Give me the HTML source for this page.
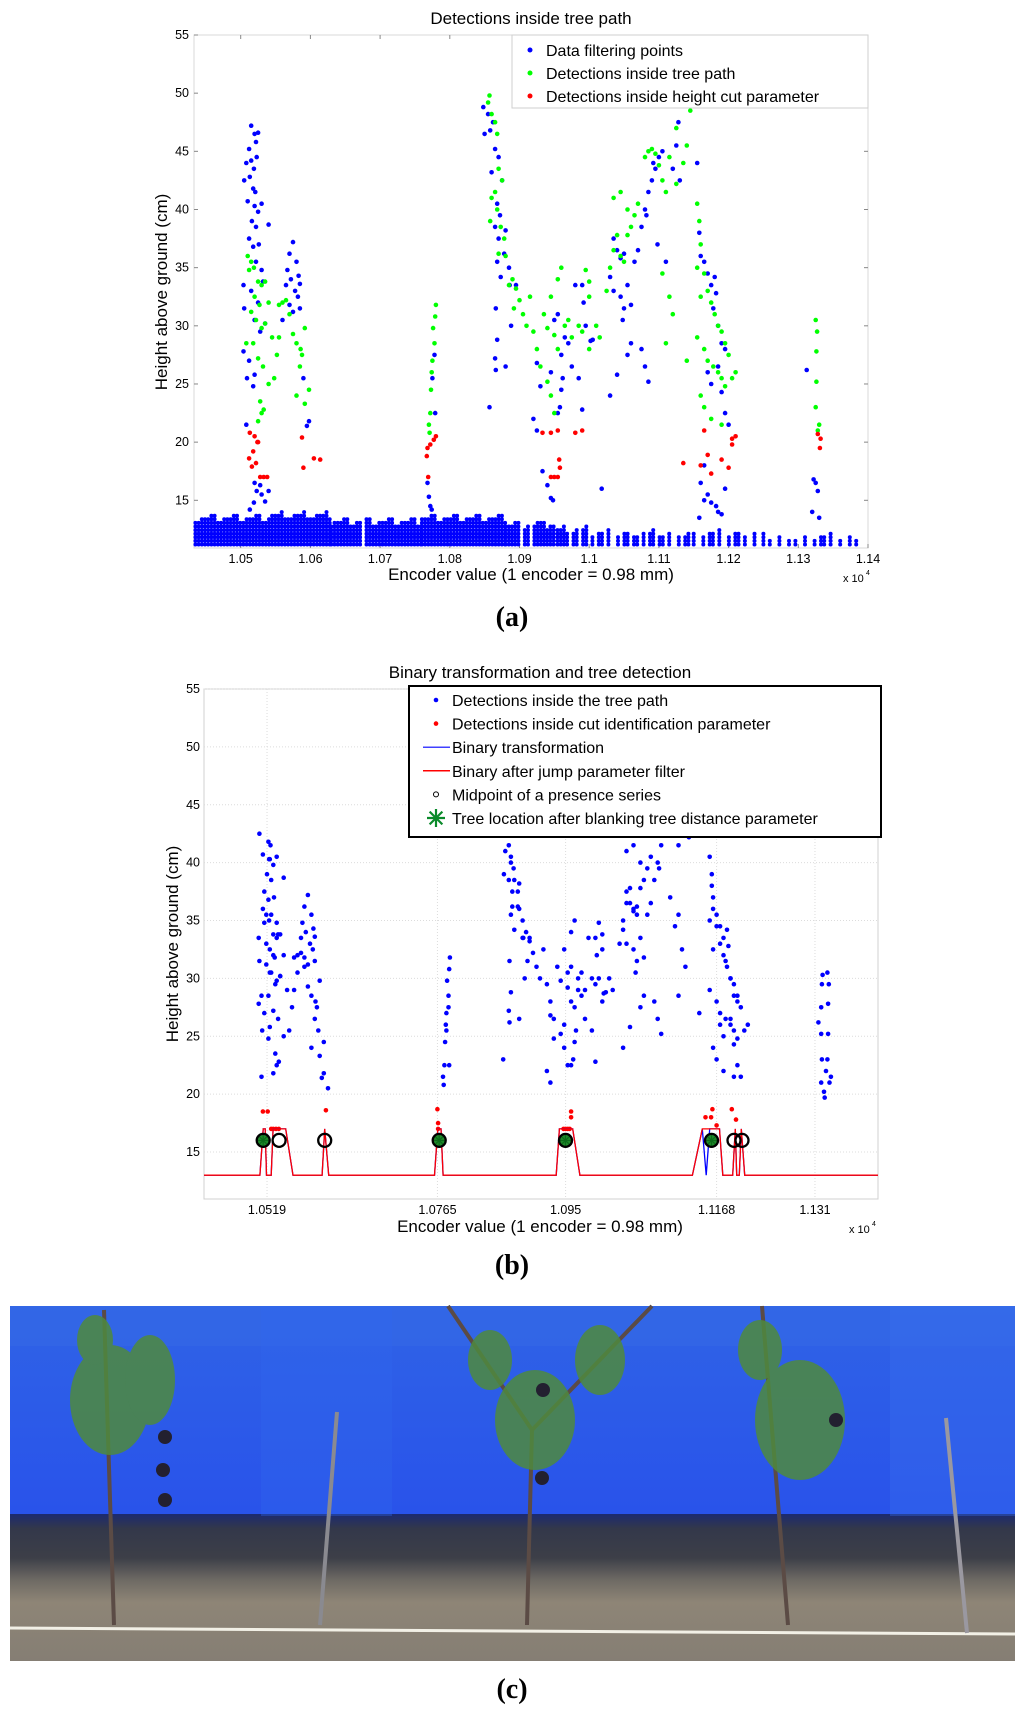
<!DOCTYPE html>
<html><head><meta charset="utf-8">
<style>
body{margin:0;background:#fff;width:1024px;height:1717px;overflow:hidden;font-family:"Liberation Sans",sans-serif;}
svg text{font-family:"Liberation Sans",sans-serif;}
svg text.serif{font-family:"Liberation Serif",serif;font-weight:bold;}
</style></head>
<body>
<svg id="fig" width="1024" height="1717" xmlns="http://www.w3.org/2000/svg">
<defs>
<linearGradient id="sky" x1="0" y1="0" x2="0" y2="1">
<stop offset="0" stop-color="#2f63e6"/><stop offset="0.5" stop-color="#2a55ea"/><stop offset="1" stop-color="#2448e8"/></linearGradient>
<linearGradient id="soil" x1="0" y1="0" x2="0" y2="1">
<stop offset="0" stop-color="#1c2a70"/><stop offset="0.1" stop-color="#33384a"/><stop offset="0.3" stop-color="#3d3f48"/><stop offset="0.45" stop-color="#6e6a64"/><stop offset="0.6" stop-color="#8e8576"/><stop offset="1" stop-color="#857e74"/></linearGradient>
</defs>
<g id="chartA"></g>
<g id="chartB"></g>
<g id="photo">
<rect x="10" y="1306" width="1005" height="355" fill="url(#sky)"/>
<rect x="10" y="1306" width="1005" height="40" fill="#3a6fe6" opacity="0.35"/>
<rect x="10" y="1514" width="1005" height="147" fill="url(#soil)"/>
<rect x="261" y="1306" width="131" height="210" fill="#3268ee" opacity="0.35"/>
<rect x="890" y="1306" width="125" height="210" fill="#3a70ee" opacity="0.35"/>
<line x1="10" y1="1628" x2="1015" y2="1634" stroke="#f2f0e6" stroke-width="3"/>
<g stroke="#5b4b45" stroke-width="4" fill="none">
<line x1="114" y1="1625" x2="104" y2="1310"/>
<line x1="527" y1="1625" x2="532" y2="1430"/>
<line x1="532" y1="1430" x2="448" y2="1306"/>
<line x1="532" y1="1430" x2="652" y2="1306"/>
<line x1="788" y1="1625" x2="762" y2="1306"/>
</g>
<line x1="320" y1="1625" x2="337" y2="1412" stroke="#8a8a90" stroke-width="4"/>
<line x1="967" y1="1633" x2="946" y2="1418" stroke="#9a98a0" stroke-width="4"/>
<g fill="#4f8a3e" opacity="0.85">
<ellipse cx="110" cy="1400" rx="40" ry="55"/><ellipse cx="150" cy="1380" rx="25" ry="45"/><ellipse cx="95" cy="1340" rx="18" ry="25"/>
<ellipse cx="535" cy="1420" rx="40" ry="50"/><ellipse cx="490" cy="1360" rx="22" ry="30"/><ellipse cx="600" cy="1360" rx="25" ry="35"/>
<ellipse cx="800" cy="1420" rx="45" ry="60"/><ellipse cx="760" cy="1350" rx="22" ry="30"/>
</g>
<g fill="#232030"><circle cx="165" cy="1437" r="7"/><circle cx="163" cy="1470" r="7"/><circle cx="165" cy="1500" r="7"/><circle cx="543" cy="1390" r="7"/><circle cx="542" cy="1478" r="7"/><circle cx="836" cy="1420" r="7"/></g>
</g>
<text class="serif" x="512" y="626" text-anchor="middle" font-size="28">(a)</text>
<text class="serif" x="512" y="1274" text-anchor="middle" font-size="28">(b)</text>
<text class="serif" x="512" y="1698" text-anchor="middle" font-size="28">(c)</text>
</svg>
<script>
// ---------- Chart A data ----------
const aBlue = [[1.0515,47.2],[1.0520,46.5],[1.0522,45.8],[1.0525,46.6],[1.0512,45.2],[1.0508,44],[1.0515,44.2],[1.0519,43.5],[1.0523,44.5],[1.0505,42.5],[1.0513,42.8],[1.0518,41.8],[1.0521,41.5],[1.0510,40.7],[1.0520,40.3],[1.0525,39.8],[1.0516,39],[1.0522,38.5],[1.0530,40.5],[1.0540,38.7],[1.0512,37.5],[1.0518,36.8],[1.0526,37],[1.0522,35.5],[1.0530,34.8],[1.0532,33.8],[1.0504,33.5],[1.0515,33],[1.0525,32],[1.0505,31.5],[1.0520,30.5],[1.0528,29.5],[1.0535,30.2],[1.0504,27.8],[1.0512,27],[1.0520,25.8],[1.0509,25.5],[1.0518,24.8],[1.0508,21.5],
[1.0575,37.2],[1.0570,36.2],[1.0580,35.5],[1.0567,34.8],[1.0572,34],[1.0585,33.6],[1.0565,33.5],[1.0578,33],[1.0582,32.5],[1.0570,31.8],[1.0575,31.2],[1.0585,31.5],[1.0560,30.5],[1.0590,25.5],[1.0598,21.8],[1.0595,21.4],[1.0583,34.3],
[1.0520,16.5],[1.0523,15.8],[1.0528,16.3],[1.0530,15.5],[1.0519,14.8],[1.0535,14.9],[1.0540,15.8],[1.0513,14.2],
[1.0778,27.5],[1.0775,25.5],[1.0779,22.5],[1.0768,16.5],[1.0770,15.3],[1.0772,14.5],[1.0774,14.2],
[1.0848,48.8],[1.0855,48.2],[1.0862,47.5],[1.0858,46.8],[1.0850,46.5],[1.0865,45.2],[1.0870,44.5],[1.0860,43.2],[1.0875,42.5],[1.0868,40.5],[1.0872,39.5],[1.0865,38.5],[1.0880,38.2],[1.0870,37.5],[1.0878,36.2],[1.0868,35.5],[1.0885,35],[1.0873,34.2],[1.0886,33.5],[1.0866,31.5],[1.0868,28.8],[1.0865,27.2],[1.0880,26.5],[1.0866,26.2],[1.0857,23],[1.0888,30],[1.0895,33.5],
[1.0925,26.8],[1.0930,24.8],[1.0920,22],[1.0925,21],[1.0933,17.5],[1.0940,16.3],[1.0945,15.2],[1.0948,15],[1.0955,22.5],[1.0958,23],[1.0950,30.5],[1.0955,31],[1.0960,27.5],[1.0962,25.5],[1.0960,24.5],[1.0945,26],[1.0970,28.5],[1.0980,33.5],[1.0990,33.5],[1.0992,32],[1.0965,29],[1.0975,26.5],[1.0990,22.8],[1.0995,30],[1.1002,28.7],[1.1005,28.8],[1.0985,25.5],[1.1018,16],
[1.1030,34.2],[1.1035,37.5],[1.1040,36.5],[1.1045,35.8],[1.1050,36.2],[1.1035,33],[1.1045,32.5],[1.1055,33.5],[1.1050,31.5],[1.1048,30.5],[1.1060,31.8],[1.1065,35.5],[1.1070,36.5],[1.1075,38.5],[1.1080,40],[1.1085,41.5],[1.1090,42.5],[1.1095,43.5],[1.1100,44.5],[1.1105,45],[1.1092,44],[1.1082,39.5],[1.1060,28.5],[1.1055,27.5],[1.1040,25.8],[1.1030,24],[1.1075,28],[1.1080,26.5],[1.1085,25.2],[1.1098,37],[1.1110,35.5],[1.1120,43.5],[1.1128,47.5],[1.1125,45.5],[1.1130,42.5],
[1.1155,44],[1.1158,38],[1.1160,36],[1.1165,35.5],[1.1170,34.5],[1.1175,33.5],[1.1180,34.2],[1.1182,32.8],[1.1178,31.5],[1.1185,30],[1.1190,28.5],[1.1195,28],[1.1185,26.5],[1.1170,26],[1.1175,25],[1.1190,24.3],[1.1195,22.5],[1.1200,21.5],[1.1165,18],[1.1160,16.5],[1.1165,15],[1.1170,15.5],[1.1175,14.8],[1.1158,13.5],[1.1190,13.8],[1.1185,14],[1.1195,16],[1.1182,14.5],
[1.1312,26.2],[1.1322,16.8],[1.1325,16.5],[1.1328,15.8],[1.1320,14],[1.1330,13.5]];
const aGreen = [[1.0510,36],[1.0515,35.5],[1.0519,35],[1.0512,34.8],[1.0525,33.8],[1.0530,33.5],[1.0535,33.8],[1.0520,32.5],[1.0527,31.8],[1.0515,31.2],[1.0522,30.5],[1.0530,29.8],[1.0508,28.5],[1.0518,28.5],[1.0525,27.2],[1.0532,26.5],[1.0540,25],[1.0548,25.5],[1.0545,29],[1.0535,30.2],[1.0528,23.5],[1.0530,22.5],[1.0525,21.8],[1.0533,22.8],[1.0540,32],[1.0560,32],[1.0565,32.2],[1.0555,31.8],[1.0570,31],[1.0555,29],[1.0575,29.3],[1.0580,28.5],[1.0586,28],[1.0588,27.5],[1.0592,29.8],[1.0585,26.5],[1.0580,24],[1.0592,23.3],[1.0598,24.5],[1.0552,27.5],
[1.0780,31.8],[1.0779,30.8],[1.0776,29.8],[1.0778,28.5],[1.0775,27],[1.0774,26],[1.0773,24.5],[1.0772,22.5],[1.0770,21.5],[1.0771,20.8],
[1.0857,49.8],[1.0855,49.2],[1.0860,48.2],[1.0865,47.5],[1.0868,46.5],[1.0870,43.5],[1.0875,42.5],[1.0865,41.5],[1.0860,41],[1.0868,40],[1.0858,39],[1.0873,38.5],[1.0878,37.5],[1.0880,36],[1.0870,36.2],[1.0890,34],[1.0885,33.5],[1.0895,33.2],[1.0892,31.5],[1.0900,32.2],
[1.0905,31],[1.0915,32.5],[1.0910,30],[1.0920,29.5],[1.0925,28],[1.0930,26.5],[1.0940,25.2],[1.0945,24],[1.0950,22.5],[1.0960,35],[1.0955,34],[1.0945,32.5],[1.0935,31],[1.0940,29.8],[1.0950,29.2],[1.0955,28],[1.0965,30],[1.0970,30.5],[1.0975,29],[1.0985,30],[1.0990,29.5],[1.1000,28],[1.1010,30],[1.1015,29],[1.1000,33.8],[1.0995,34.8],[1.1000,32.5],
[1.1025,33],[1.1030,35],[1.1035,36.5],[1.1040,37.8],[1.1045,36],[1.1050,35.5],[1.1055,37.8],[1.1060,38.5],[1.1065,39.5],[1.1070,40.5],[1.1045,41.5],[1.1035,41],[1.1055,40],[1.1080,44.5],[1.1085,45],[1.1090,45.2],[1.1095,44.8],[1.1100,43.8],[1.1105,42.5],[1.1110,41.5],[1.1115,44.5],[1.1125,42.2],[1.1135,44],[1.1140,45.5],[1.1145,48.5],[1.1125,47],[1.1105,34.5],[1.1115,32.5],[1.1120,31],[1.1140,27],[1.1110,28.5],
[1.1155,40.5],[1.1158,39],[1.1160,37],[1.1155,35],[1.1165,34.5],[1.1160,32.5],[1.1170,33],[1.1175,32],[1.1180,31],[1.1185,30],[1.1190,29.5],[1.1195,28.5],[1.1200,27.5],[1.1155,29],[1.1165,28],[1.1170,27],[1.1178,26.5],[1.1185,26],[1.1190,25.5],[1.1195,24.8],[1.1205,25.5],[1.1160,24],[1.1165,23],[1.1175,22],[1.1190,21.5],[1.1210,26],
[1.1325,30.5],[1.1327,29.5],[1.1326,27.8],[1.1326,25.2],[1.1325,23],[1.1330,21.5],[1.1328,21]];
const aRed = [[1.0513,20.8],[1.0520,20.5],[1.0525,20],[1.0518,19.2],[1.0512,18.6],[1.0522,18.2],[1.0516,17.9],[1.0528,17],[1.0533,17],[1.0538,17],[1.0524,20],[1.0588,20.4],[1.0590,17.8],[1.0605,18.6],[1.0614,18.5],
[1.0777,20.2],[1.0780,20.5],[1.0772,19.8],[1.0768,19.5],[1.0767,18.8],[1.0769,17],
[1.0945,20.8],[1.0955,21],[1.0957,18.5],[1.0958,17.8],[1.0950,17],[1.0955,17],[1.0945,17],[1.0933,20.8],[1.0980,20.8],[1.0990,21],
[1.1135,18.2],[1.1160,18],[1.1165,21],[1.1170,18.9],[1.1175,17.3],[1.1190,18.5],[1.1200,17.8],[1.1205,20.3],[1.1210,20.5],[1.1205,19.8],
[1.1328,20.7],[1.1332,20.3],[1.1331,19.5]];
// ground band: segment boundaries (x), top height, fill fraction
const groundX = [1.0435,1.0545,1.0630,1.0760,1.0880,1.0950,1.1000,1.1150,1.1250,1.1390];
const groundTop = [13.8,14.0,13.5,13.8,13.3,12.8,12.5,12.5,12.2];
const groundFill = [1.0,1.0,0.95,1.0,0.85,0.7,0.55,0.45,0.4];
const aXTicks = [1.05,1.06,1.07,1.08,1.09,1.1,1.11,1.12,1.13,1.14];
const aXTickLabels = ["1.05","1.06","1.07","1.08","1.09","1.1","1.11","1.12","1.13","1.14"];
const aYTicks = [15,20,25,30,35,40,45,50,55];

// ---------- Chart B data ----------
const bBlue = aBlue.concat(aGreen).filter(p => p[1] >= 19.5 && p[1] <= 42.5).concat([[1.0519,40.3],[1.0604,20.5],[1.1318,30.3],[1.1317,29.5],[1.1316,27.5],[1.1316,25.2],[1.1317,23],[1.1316,21],[1.1320,20.2],[1.1321,19.7],[1.1323,22]]);
const bRed = [[1.0513,18.5],[1.0520,18.5],[1.0525,17],[1.0528,17],[1.0532,17],[1.0536,17],[1.0604,18.6],[1.0765,18.7],[1.0766,17.5],[1.0766,17],[1.0947,17],[1.0950,17],[1.0953,17],[1.0956,17],[1.0958,18.5],[1.0958,18],[1.1152,18],[1.1160,18],[1.1162,18.7],[1.1168,17.3],[1.1190,18.7],[1.1196,17.8]];
const redLineX = [1.0428,1.05087,1.05134,1.05163,1.05182,1.05250,1.05278,1.05459,1.05565,1.05985,1.06022,1.06080,1.07607,1.07655,1.07702,1.07731,1.09364,1.09411,1.09603,1.09707,1.11331,1.11474,1.11722,1.11770,1.11913,1.11950,1.11970,1.12008,1.12037,1.12085,1.1401];
const redLineY = [13,13,17,17,13,13,17,17,13,13,17,13,13,17,17,13,13,17,17,13,13,17,17,13,13,17,13,13,17,13,13];
const blueLineX = [1.0428,1.05087,1.05134,1.05163,1.05182,1.05250,1.05278,1.05459,1.05565,1.05985,1.06022,1.06080,1.07607,1.07655,1.07702,1.07731,1.09364,1.09411,1.09603,1.09707,1.11331,1.11474,1.11530,1.11580,1.11722,1.11770,1.11913,1.11950,1.11970,1.12008,1.12037,1.12085,1.1401];
const blueLineY = [13,13,17,17,13,13,17,17,13,13,17,13,13,17,17,13,13,17,17,13,13,17,13,17,17,13,13,17,13,13,17,13,13];
const midX = [1.05134,1.05364,1.06022,1.07675,1.09498,1.11607,1.11931,1.12046];
const midY = [16,16,16,16,16,16,16,16];
const treeX = [1.05134,1.07675,1.09498,1.11607];
const treeY = [16,16,16,16];
const bXTicks = [1.0519,1.0765,1.095,1.1168,1.131];
const bXTickLabels = ["1.0519","1.0765","1.095","1.1168","1.131"];
const bYTicks = [15,20,25,30,35,40,45,50,55];

const NS = "http://www.w3.org/2000/svg";
function mk(parent, tag, attrs, text) {
  const e = document.createElementNS(NS, tag);
  for (const k in attrs) e.setAttribute(k, attrs[k]);
  if (text !== undefined) e.textContent = text;
  parent.appendChild(e);
  return e;
}

// ===== Chart A =====
(function(){
  const g = document.getElementById('chartA');
  const L=194,R=868,T=35,B=548, x0=1.0433,x1=1.14, y0=10.9,y1=55;
  const sx = v => L + (v-x0)/(x1-x0)*(R-L);
  const sy = v => B - (v-y0)/(y1-y0)*(B-T);
  const ax = mk(g,'rect',{x:L,y:T,width:R-L,height:B-T,fill:'#fff',stroke:'#d8d8d8','stroke-width':1});
   
  aXTicks.forEach((t,i)=>{
    const x=sx(t);
    mk(g,'line',{x1:x,y1:B,x2:x,y2:B-4,stroke:'#888'});
    mk(g,'line',{x1:x,y1:T,x2:x,y2:T+4,stroke:'#888'});
    const lb = mk(g,'text',{x:x,y:B+15,'text-anchor':'middle','font-size':12.5},aXTickLabels[i]);
     
  });
  aYTicks.forEach(t=>{
    const y=sy(t);
    mk(g,'line',{x1:L,y1:y,x2:L+4,y2:y,stroke:'#888'});
    mk(g,'line',{x1:R,y1:y,x2:R-4,y2:y,stroke:'#888'});
    const lb = mk(g,'text',{x:L-5,y:y+4,'text-anchor':'end','font-size':12.5},String(t));
     
  });
  const gb = mk(g,'g',{fill:'#0000ff'});
   
  let col=0;
  for (let s=0;s<groundTop.length;s++){
    for (let px=sx(groundX[s]); px<sx(groundX[s+1]); px+=3.2){
      col++;
      if (((col*37)%100)/100 >= groundFill[s]) continue;
      const top = sy(groundTop[s] - ((col*13)%7)/10);
      for (let py=sy(11.2); py>=top; py-=3.6){
        mk(gb,'circle',{cx:px.toFixed(1),cy:py.toFixed(1),r:2});
      }
    }
  }
  function pts(arr,color,name){
    const gg = mk(g,'g',{fill:color});
     
    arr.forEach(p=>{
      mk(gg,'circle',{cx:sx(p[0]).toFixed(1),cy:sy(p[1]).toFixed(1),r:2.3});
    });
  }
  pts(aBlue,'#0000ff','data-filtering-points');
  pts(aGreen,'#00ff00','tree-path-detections');
  pts(aRed,'#ff0000','height-cut-detections');
  const lg = mk(g,'g',{});
   
  mk(lg,'rect',{x:512,y:35,width:356,height:73,fill:'#fff',stroke:'#cfcfcf'});
  const items=[['#0000ff','Data filtering points'],['#00ff00','Detections inside tree path'],['#ff0000','Detections inside height cut parameter']];
  items.forEach((it,i)=>{
    const y=50+i*23;
    mk(lg,'circle',{cx:530,cy:y,r:2.5,fill:it[0]});
    const t = mk(lg,'text',{x:546,y:y+6,'font-size':16},it[1]);
     
  });
  const tt = mk(g,'text',{x:531,y:24,'text-anchor':'middle','font-size':17},'Detections inside tree path');
   
  const xl = mk(g,'text',{x:531,y:580,'text-anchor':'middle','font-size':17},'Encoder value (1 encoder = 0.98 mm)');
   
  const xm = mk(g,'text',{x:843,y:582,'font-size':11},'x 10');
   
  mk(g,'text',{x:866,y:575,'font-size':7},'4');
  const yl = mk(g,'text',{x:0,y:0,'text-anchor':'middle','font-size':17,transform:'translate(167,292) rotate(-90)'},'Height above ground (cm)');
   
})();

// ===== Chart B =====
(function(){
  const g = document.getElementById('chartB');
  const L=204,R=878,T=689,B=1199, x0=1.0428,x1=1.1401, y0=10.94,y1=55;
  const sx = v => L + (v-x0)/(x1-x0)*(R-L);
  const sy = v => B - (v-y0)/(y1-y0)*(B-T);
  const ax = mk(g,'rect',{x:L,y:T,width:R-L,height:B-T,fill:'#fff',stroke:'#d0d0d0','stroke-width':1});
   
  bXTicks.forEach((t,i)=>{
    const x=sx(t);
    mk(g,'line',{x1:x,y1:T,x2:x,y2:B,stroke:'#dcdcdc','stroke-dasharray':'1,2'});
    const lb = mk(g,'text',{x:x,y:B+15,'text-anchor':'middle','font-size':12.5},bXTickLabels[i]);
     
  });
  bYTicks.forEach(t=>{
    const y=sy(t);
    mk(g,'line',{x1:L,y1:y,x2:R,y2:y,stroke:'#dcdcdc','stroke-dasharray':'1,2'});
    const lb = mk(g,'text',{x:L-4,y:y+4,'text-anchor':'end','font-size':12.5},String(t));
     
  });
  const bl = mk(g,'g',{fill:'#0000ff'});
   
  bBlue.forEach(p=>mk(bl,'circle',{cx:sx(p[0]+0.0003).toFixed(1),cy:sy(p[1]).toFixed(1),r:2.3}));
  const rd = mk(g,'g',{fill:'#ff0000'});
   
  bRed.forEach(p=>mk(rd,'circle',{cx:sx(p[0]).toFixed(1),cy:sy(p[1]).toFixed(1),r:2.3}));
  const bp = blueLineX.map((v,i)=>sx(v).toFixed(1)+','+sy(blueLineY[i]).toFixed(1)).join(' ');
  const bline = mk(g,'polyline',{points:bp,fill:'none',stroke:'#0000ff','stroke-width':1.3});
   
  const rp = redLineX.map((v,i)=>sx(v).toFixed(1)+','+sy(redLineY[i]).toFixed(1)).join(' ');
  const rline = mk(g,'polyline',{points:rp,fill:'none',stroke:'#ff0000','stroke-width':1.3});
   
  treeX.forEach((v,i)=>{
    const c = mk(g,'circle',{cx:sx(v).toFixed(1),cy:sy(treeY[i]).toFixed(1),r:7,fill:'#1f8a2a'});
     
    const cx=sx(v), cy=sy(treeY[i]);
    for (let a=0;a<4;a++){ const an=a*Math.PI/4;
      mk(g,'line',{x1:cx-6*Math.cos(an),y1:cy-6*Math.sin(an),x2:cx+6*Math.cos(an),y2:cy+6*Math.sin(an),stroke:'#0c6a1a','stroke-width':1.2}); }
  });
  midX.forEach((v,i)=>{
    const c = mk(g,'circle',{cx:sx(v).toFixed(1),cy:sy(midY[i]).toFixed(1),r:6.5,fill:'none',stroke:'#000','stroke-width':2.3});
     
  });
  const lg = mk(g,'g',{});
   
  mk(lg,'rect',{x:409,y:686,width:472,height:151,fill:'#fff',stroke:'#000','stroke-width':2});
  const labels=['Detections inside the tree path','Detections inside cut identification parameter','Binary transformation','Binary after jump parameter filter','Midpoint of a presence series','Tree location after blanking tree distance parameter'];
  labels.forEach((s,i)=>{
    const y=700+i*23.6;
    if(i===0) mk(lg,'circle',{cx:436,cy:y,r:2.3,fill:'#0000ff'});
    if(i===1) mk(lg,'circle',{cx:436,cy:y,r:2.3,fill:'#ff0000'});
    if(i===2) mk(lg,'line',{x1:423,y1:y,x2:450,y2:y,stroke:'#4040ff','stroke-width':1.5});
    if(i===3) mk(lg,'line',{x1:423,y1:y,x2:450,y2:y,stroke:'#ff0000','stroke-width':1.5});
    if(i===4) mk(lg,'circle',{cx:436,cy:y,r:2.5,fill:'none',stroke:'#000','stroke-width':1});
    if(i===5){ for(let a=0;a<4;a++){const an=a*Math.PI/4; mk(lg,'line',{x1:436-9*Math.cos(an),y1:y-9*Math.sin(an),x2:436+9*Math.cos(an),y2:y+9*Math.sin(an),stroke:'#0a8a2a','stroke-width':2.2});} }
    const t = mk(lg,'text',{x:452,y:y+6,'font-size':16},s);
     
  });
  const tt = mk(g,'text',{x:540,y:678,'text-anchor':'middle','font-size':17},'Binary transformation and tree detection');
   
  const xl = mk(g,'text',{x:540,y:1232,'text-anchor':'middle','font-size':17},'Encoder value (1 encoder = 0.98 mm)');
   
  const xm = mk(g,'text',{x:849,y:1233,'font-size':11},'x 10');
   
  mk(g,'text',{x:872,y:1226,'font-size':7},'4');
  const yl = mk(g,'text',{x:0,y:0,'text-anchor':'middle','font-size':17,transform:'translate(178,944) rotate(-90)'},'Height above ground (cm)');
   
})();
</script>
</body></html>
